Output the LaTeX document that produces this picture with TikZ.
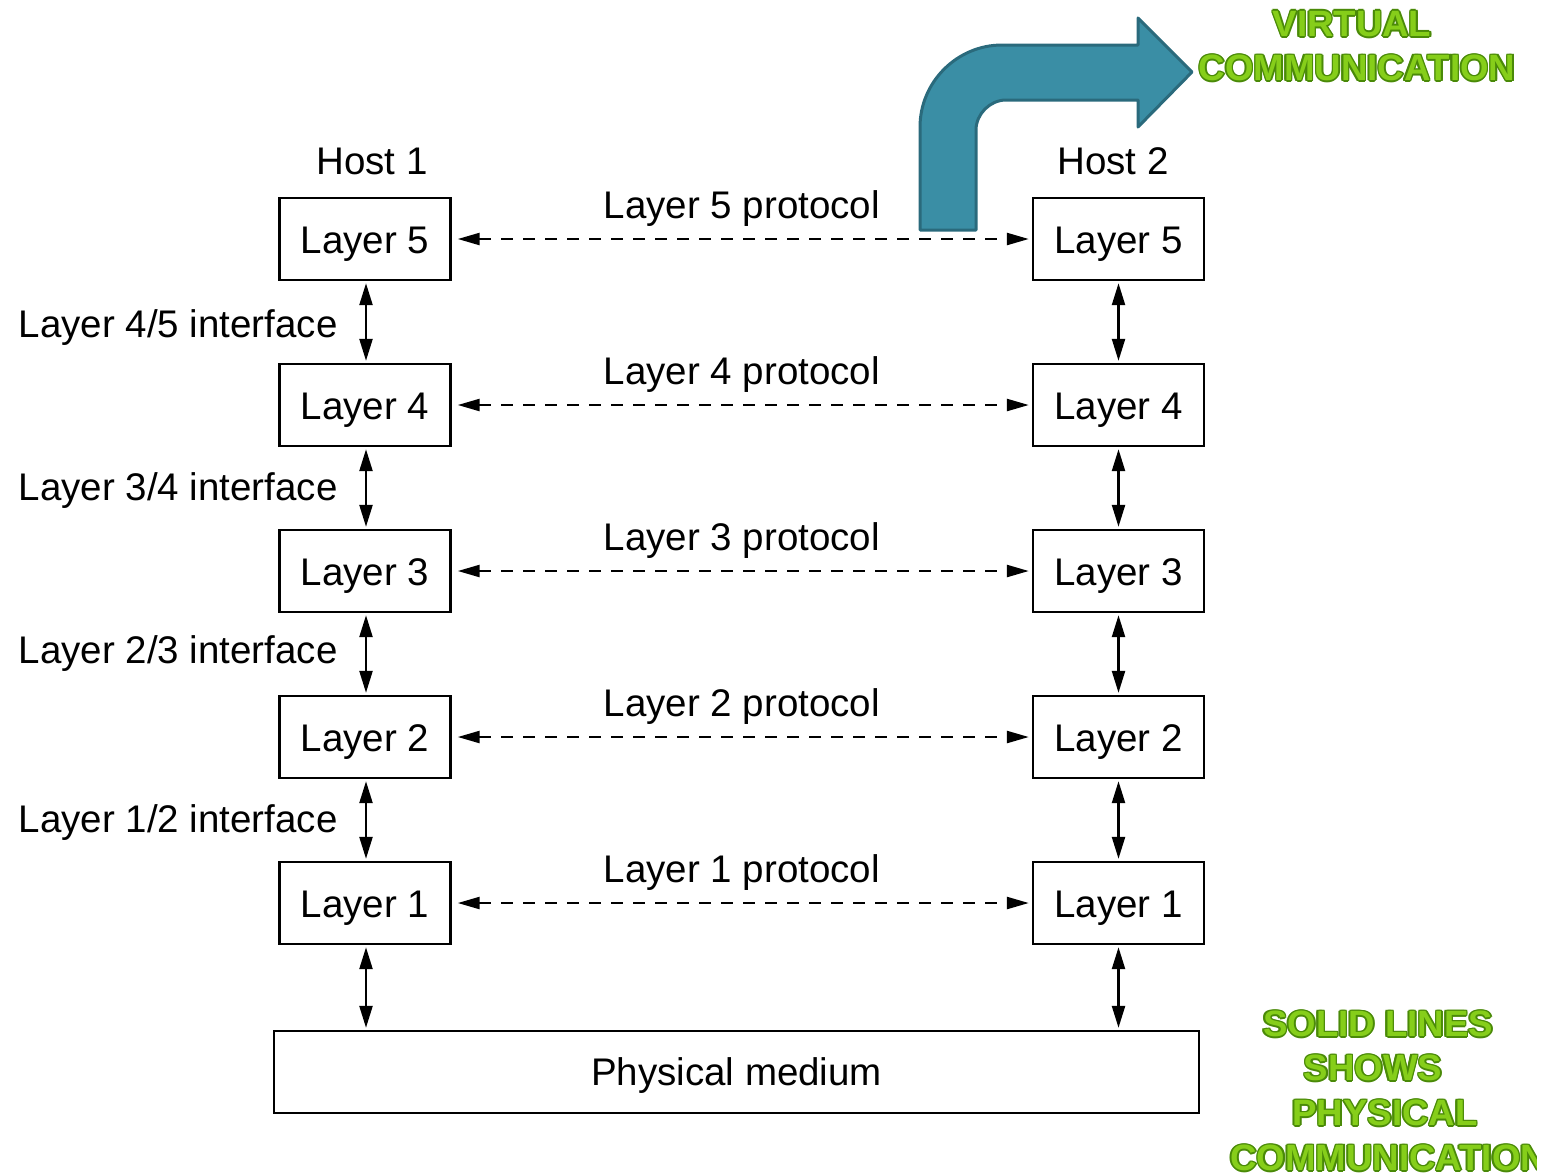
\documentclass[tikz,border=0pt]{standalone}
\usepackage{fontspec}
\setmainfont{Liberation Sans}
\usetikzlibrary{arrows.meta,calc}
\definecolor{arrowblue}{HTML}{3A8EA5}
\definecolor{arrowedge}{HTML}{2A6A7C}
\definecolor{gfill}{HTML}{86CE1A}
\definecolor{gedge}{HTML}{4A8A08}
\newcommand\mainfs{\fontsize{19.25}{23}\selectfont}
\newcommand\gshift[3]{\rlap{\kern#1\raisebox{#2}{\textcolor{gedge}{#3}}}}
\newcommand\gout[1]{\leavevmode
  \gshift{-0.8pt}{0pt}{#1}\gshift{0.8pt}{0pt}{#1}%
  \gshift{0pt}{0.8pt}{#1}\gshift{0pt}{-0.8pt}{#1}%
  \gshift{-0.6pt}{-0.6pt}{#1}\gshift{0.6pt}{0.6pt}{#1}%
  \gshift{-0.6pt}{0.6pt}{#1}\gshift{0.6pt}{-0.6pt}{#1}%
  \textcolor{gfill}{#1}}
\tikzset{
  layerbox/.style={draw, line width=1.2pt, minimum width=85.5pt, minimum height=41pt, inner sep=0pt, font=\mainfs, text height=16pt, text depth=2pt},
  lbl/.style={font=\mainfs, inner sep=0pt},
  gtextstyle/.style={font=\bfseries\fontsize{18.3}{22}\selectfont, inner sep=0pt},
  varrow/.style={line width=1.2pt, {Triangle[length=11pt,width=6.5pt]}-{Triangle[length=11pt,width=6.5pt]}, shorten <=1pt, shorten >=1pt},
  harrow/.style={line width=1.2pt, dash pattern=on 6pt off 5pt, {Triangle[length=11pt,width=6pt]}-{Triangle[length=11pt,width=6pt]}, shorten <=3pt, shorten >=1.5pt},
}
\begin{document}
\begin{tikzpicture}[x=0.5pt,y=-0.5pt]
\useasboundingbox (0,0) rectangle (1562,1174);
% host labels
\node[lbl] (h1) at (372,161) {Host 1};
\node[lbl] (h2) at (1113,161) {Host 2};
% boxes
\foreach \n/\y in {5/239,4/405,3/571,2/737,1/903}{
  \node[layerbox] (l\n) at (365,\y) {Layer \n};
  \node[layerbox] (r\n) at (1118.5,\y) {Layer \n};
}
\node[layerbox, minimum width=462.5pt, text height=15.5pt, text depth=2.5pt] (pm) at (736.5,1072) {Physical medium};
% protocols
\foreach \n in {5,4,3,2,1}{
  \draw[harrow] (l\n.east) -- node[lbl, above=5.5pt] (p\n) {Layer \n\ protocol} (r\n.west);
}
% vertical arrows
\foreach \a/\b in {5/4,4/3,3/2,2/1}{
  \draw[varrow] ([xshift=0.5pt]l\a.south) -- ([xshift=0.5pt]l\b.north);
  \draw[varrow] (r\a.south) -- (r\b.north);
}
\draw[varrow] ([xshift=0.5pt]l1.south) -- ([xshift=0.5pt]l1.south |- pm.north);
\draw[varrow] (r1.south) -- (r1.south |- pm.north);
% interface labels
\node[lbl, anchor=east] (i45) at (338,328) {Layer 4/5 interface};
\node[lbl, anchor=east] (i34) at (338,491) {Layer 3/4 interface};
\node[lbl, anchor=east] (i23) at (338,654) {Layer 2/3 interface};
\node[lbl, anchor=east] (i12) at (338,823) {Layer 1/2 interface};
% blue bent arrow
\draw[fill=arrowblue, draw=arrowedge, line width=1.5pt, line join=round]
  (920,230) -- (920,127) .. controls (920,82) and (957,45) .. (1002,45)
  -- (1138,45) -- (1138,18) -- (1192,72) -- (1138,127) -- (1138,100)
  -- (1006,100) .. controls (990,100) and (976,114) .. (976,130)
  -- (976,230) -- cycle;
% green texts
\node[gtextstyle] (gv1) at (1352,24) {\gout{VIRTUAL}};
\node[gtextstyle] (gv2) at (1357,68) {\gout{COMMUNICATION}};
\node[gtextstyle] (gs1) at (1378,1024) {\gout{SOLID LINES}};
\node[gtextstyle] (gs2) at (1373,1068) {\gout{SHOWS}};
\node[gtextstyle] (gs3) at (1385,1113) {\gout{PHYSICAL}};
\begin{scope}
\clip (1200,1130) rectangle (1536,1174);
\node[gtextstyle, anchor=west] (gs4) at (1230,1158) {\gout{COMMUNICATION}};
\end{scope}
\end{tikzpicture}
\end{document}
